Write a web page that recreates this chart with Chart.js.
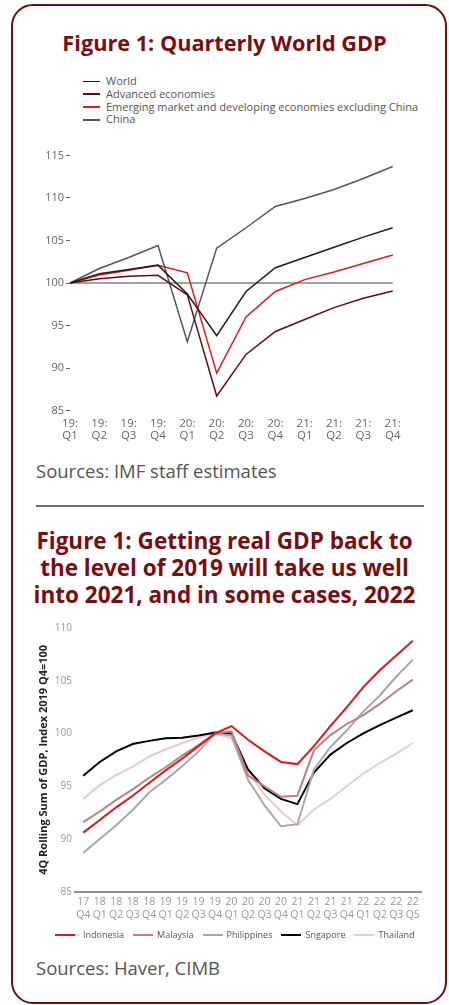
<!DOCTYPE html>
<html>
<head>
<meta charset="utf-8">
<script src="https://cdn.jsdelivr.net/npm/chart.js@4.4.0/dist/chart.umd.min.js"></script>
<style>
html,body{margin:0;padding:0;background:#fff;}
body{width:449px;height:1005px;position:relative;overflow:hidden;font-family:"Open Sans",sans-serif;}
.frame{position:absolute;left:11px;top:4px;width:436px;height:1000px;border:2.5px solid #7a0a0e;border-radius:22px;box-sizing:border-box;}
.title{position:absolute;left:0;width:449px;text-align:center;color:#7b0c10;font-weight:700;margin:0;white-space:nowrap;}
.src{position:absolute;left:36px;color:#555;font-size:18.5px;line-height:22px;white-space:nowrap;}
.sep{position:absolute;left:36px;width:388px;top:505px;height:2px;background:#6e6e6e;}
.cv{position:absolute;left:0;}
#legend1{position:absolute;left:83px;top:75px;font-size:11px;color:#555;}
#legend1 .row{height:12.8px;line-height:12.8px;display:flex;align-items:center;white-space:nowrap;}
#legend1 .ln{width:17px;height:1.5px;margin-right:6px;}
#legend2{position:absolute;left:55px;top:928px;font-size:9px;color:#555;display:flex;align-items:center;white-space:nowrap;line-height:14px;}
#legend2 .it{display:flex;align-items:center;margin-right:9px;}
#legend2 .ln{width:20px;height:2.5px;margin-right:4px;}
</style>
</head>
<body>
<div class="frame"></div>
<div class="title" style="top:29px;font-size:21.7px;line-height:28px;">Figure 1: Quarterly World GDP</div>
<div id="legend1"></div>
<div class="cv" style="top:140px;width:449px;height:310px;"><canvas id="c1"></canvas></div>
<div class="src" style="top:459.7px;">Sources: IMF staff estimates</div>
<div class="sep"></div>
<div class="title" style="top:527px;font-size:22.5px;line-height:27px;">Figure 1: Getting real GDP back to<br>the level of 2019 will take us well<br>into 2021, and in some cases, 2022</div>
<div class="cv" style="top:610px;width:449px;height:320px;"><canvas id="c2"></canvas></div>
<div id="legend2"></div>
<div class="src" style="top:957px;">Sources: Haver, CIMB</div>
<script>
// ---- Chart 1 data ----
const categories1 = [["19:","Q1"],["19:","Q2"],["19:","Q3"],["19:","Q4"],["20:","Q1"],["20:","Q2"],["20:","Q3"],["20:","Q4"],["21:","Q1"],["21:","Q2"],["21:","Q3"],["21:","Q4"]];
const world = [100, 101.1, 101.6, 102.1, 98.7, 93.8, 99.0, 101.8, 103.0, 104.2, 105.4, 106.5];
const advanced = [100, 100.5, 100.8, 100.9, 98.6, 86.7, 91.6, 94.3, 95.7, 97.1, 98.2, 99.05];
const emerging = [100, 100.95, 101.5, 102.1, 101.2, 89.4, 96.0, 99.0, 100.4, 101.3, 102.3, 103.3];
const china = [100, 101.7, 103.0, 104.4, 93.1, 104.1, 106.5, 109.0, 109.95, 111.0, 112.3, 113.7];
const baseline1 = [100, 100, 100, 100, 100, 100, 100, 100, 100, 100, 100, 100];
const yTicks1 = [85, 90, 95, 100, 105, 110, 115];

// ---- Chart 2 data ----
const categories2 = [["17","Q4"],["18","Q1"],["18","Q2"],["18","Q3"],["18","Q4"],["19","Q1"],["19","Q2"],["19","Q3"],["19","Q4"],["20","Q1"],["20","Q2"],["20","Q3"],["20","Q4"],["21","Q1"],["21","Q2"],["21","Q3"],["21","Q4"],["22","Q1"],["22","Q2"],["22","Q3"],["22","Q5"]];
const indonesia = [90.6, 91.8, 93.0, 94.1, 95.3, 96.5, 97.6, 98.8, 100.0, 100.7, 99.4, 98.3, 97.3, 97.1, 98.8, 100.7, 102.5, 104.4, 106.0, 107.4, 108.8];
const malaysia = [91.6, 92.6, 93.7, 94.7, 95.8, 96.8, 97.9, 98.9, 100.0, 100.2, 96.0, 95.0, 94.0, 94.1, 98.4, 99.85, 100.9, 101.75, 102.8, 104.0, 105.1];
const philippines = [88.7, 90.0, 91.3, 92.75, 94.4, 95.6, 96.9, 98.3, 100.0, 99.8, 95.6, 93.2, 91.2, 91.4, 96.6, 98.7, 100.3, 102.1, 103.6, 105.4, 107.0];
const singapore = [96.0, 97.3, 98.3, 99.0, 99.3, 99.55, 99.6, 99.8, 100.1, 100.0, 96.6, 94.8, 93.8, 93.3, 96.3, 98.0, 99.1, 100.0, 100.8, 101.5, 102.2];
const thailand = [93.8, 95.1, 96.05, 96.85, 97.8, 98.5, 99.07, 99.6, 100.0, 99.55, 96.4, 94.2, 92.6, 91.3, 92.8, 93.8, 95.0, 96.2, 97.2, 98.1, 99.1];
const yTitle2 = "4Q Rolling Sum of GDP, Index 2019 Q4=100";

Chart.defaults.font.family = "'Open Sans', sans-serif";
Chart.defaults.animation = false;

const c1 = new Chart(document.getElementById('c1'), {
  type: 'line',
  data: {
    labels: categories1,
    datasets: [
      {label: 'World', data: world, borderColor: '#1e1e1e', borderWidth: 1.5},
      {label: 'Advanced economies', data: advanced, borderColor: '#6b0a0c', borderWidth: 1.5},
      {label: 'Emerging market and developing economies excluding China', data: emerging, borderColor: '#e8161d', borderWidth: 1.5},
      {label: 'China', data: china, borderColor: '#555555', borderWidth: 1.5},
      {label: '', data: baseline1, borderColor: '#444444', borderWidth: 1, order: 10}
    ]
  },
  options: {
    responsive: true, maintainAspectRatio: false,
    elements: {point: {radius: 0}, line: {tension: 0}},
    layout: {padding: {top: 15.5, right: 56.3, left: 0, bottom: 0}},
    plugins: {legend: {display: false}, tooltip: {enabled: false}},
    scales: {
      x: {
        grid: {display: false, drawTicks: false}, border: {display: false},
        ticks: {color: '#666', font: {size: 11.5, lineHeight: 1.05}, maxRotation: 0, autoSkip: false, padding: 7},
        afterFit: s => { s.height = 39.5; }
      },
      y: {
        min: 85, max: 115,
        afterBuildTicks: s => { s.ticks = yTicks1.map(v => ({value: v})); },
        grid: {display: true, drawOnChartArea: false, drawTicks: true, tickLength: 4, color: '#666', lineWidth: 1},
        border: {display: false},
        ticks: {color: '#666', font: {size: 11}, padding: 2},
        afterFit: s => { s.width = 70; }
      }
    }
  }
});

const lg1 = document.getElementById('legend1');
c1.data.datasets.filter(d => d.label).forEach(d => {
  const r = document.createElement('div'); r.className = 'row';
  const l = document.createElement('span'); l.className = 'ln'; l.style.background = d.borderColor;
  const t = document.createElement('span'); t.textContent = d.label;
  r.appendChild(l); r.appendChild(t); lg1.appendChild(r);
});

const c2 = new Chart(document.getElementById('c2'), {
  type: 'line',
  data: {
    labels: categories2,
    datasets: [
      {label: 'Indonesia', data: indonesia, borderColor: '#e8141c', borderWidth: 2},
      {label: 'Malaysia', data: malaysia, borderColor: '#c07f80', borderWidth: 2},
      {label: 'Philippines', data: philippines, borderColor: '#a8a8a8', borderWidth: 2},
      {label: 'Sngapore', data: singapore, borderColor: '#000000', borderWidth: 2},
      {label: 'Thailand', data: thailand, borderColor: '#ebcaca', borderWidth: 2}
    ]
  },
  options: {
    responsive: true, maintainAspectRatio: false,
    elements: {point: {radius: 0}, line: {tension: 0}},
    layout: {padding: {top: 18, right: 28, left: 37, bottom: 0}},
    plugins: {legend: {display: false}, tooltip: {enabled: false}},
    scales: {
      x: {
        offset: true,
        grid: {display: false, drawTicks: false},
        border: {display: true, color: '#8f8f8f', width: 2},
        ticks: {color: '#999', font: {size: 10.5}, maxRotation: 0, autoSkip: false, padding: 4},
        afterFit: s => { s.height = 38.3; }
      },
      y: {
        min: 85, max: 110,
        ticks: {stepSize: 5, color: '#999', font: {size: 10}, padding: 3},
        grid: {display: false, drawTicks: false}, border: {display: false},
        title: {display: true, text: yTitle2, color: '#222', font: {size: 11, weight: 'bold'}, padding: {top: 0, bottom: 0}},
        afterFit: s => { s.width = 38; }
      }
    }
  }
});

const lg2 = document.getElementById('legend2');
c2.data.datasets.forEach((d, i) => {
  const it = document.createElement('div'); it.className = 'it';
  const l = document.createElement('span'); l.className = 'ln'; l.style.background = d.borderColor;
  if (i === 0) l.style.marginRight = '8px';
  const t = document.createElement('span'); t.textContent = d.label;
  it.appendChild(l); it.appendChild(t); lg2.appendChild(it);
});
</script>
</body>
</html>
